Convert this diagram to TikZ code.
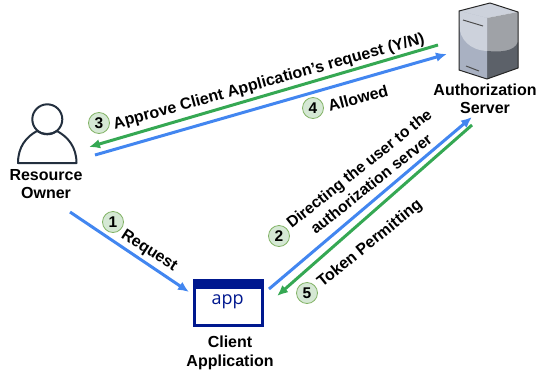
\documentclass[tikz,border=0pt]{standalone}
\usepackage{fontspec}
\setmainfont{Liberation Sans}
\newfontfamily\appfont{Open Sans}
\definecolor{flowblue}{HTML}{4286F0}
\definecolor{flowgreen}{HTML}{35A853}
\definecolor{badgefill}{HTML}{D5E8D4}
\definecolor{badgeline}{HTML}{82B366}
\definecolor{personline}{HTML}{232F3E}
\definecolor{appblue}{HTML}{00188F}
\definecolor{srvtop}{HTML}{CDD2DC}
\definecolor{srvleft}{HTML}{A9B1C2}
\definecolor{srvright}{HTML}{9FA2A7}
\definecolor{srvdark}{HTML}{5C6169}
\usetikzlibrary{arrows.meta}
\tikzset{
 x=1pt,y=-1pt,
 bluearrow/.style={draw=flowblue,line width=3pt,-{Latex[length=11pt,width=9.5pt]}},
 greenarrow/.style={draw=flowgreen,line width=3pt,-{Latex[length=11pt,width=9.5pt]}},
 badge/.style={circle,draw=badgeline,fill=badgefill,line width=0.8pt,inner sep=0pt,minimum size=21pt,font=\fontsize{15.5}{15.5}\selectfont\bfseries},
 caption/.style={align=center,font=\fontsize{16}{18.5}\selectfont\bfseries,inner sep=0pt},
 flowlabel/.style={align=center,font=\fontsize{16}{18}\selectfont\bfseries,inner sep=0pt},
 flowlabeltwo/.style={align=center,font=\fontsize{15.7}{19.5}\selectfont\bfseries,inner sep=0pt},
}
\begin{document}
\begin{tikzpicture}
\useasboundingbox (0,0) rectangle (537,375);
% person
\draw[personline,line width=2pt,fill=white,line join=round] (18,163) -- (76.5,163) .. controls (76.5,147) and (68,137) .. (57,131) .. controls (51,135) and (43,135) .. (37,131) .. controls (26,137) and (18,147) .. (18,163) -- cycle;
\node[circle,draw=personline,line width=2pt,minimum size=30pt,inner sep=0pt] (head) at (47.3,119.3) {};
\node[caption] (owner) at (46,184) {Resource\\Owner};
% server
\fill[srvtop] (459,11) -- (490,3) -- (518,12) -- (487,18) -- cycle;
\fill[srvright] (487,18) -- (518,12) -- (518,68) -- (487,79) -- cycle;
\fill[srvdark] (487,51) .. controls (500,52) and (514,52) .. (518,42) -- (518,68) -- (487,79) -- cycle;
\fill[srvleft] (459,11) -- (487,18) -- (487,79) -- (459,70) -- cycle;
\fill[srvtop] (459,11) -- (487,18) -- (487,51) .. controls (470,50) and (460,40) .. (459,25) -- cycle;
\draw[black!85,line width=1pt,line join=round] (459,11) -- (490,3) -- (518,12) -- (518,68) -- (487,79) -- (459,70) -- cycle;
\draw[black!70,line width=1pt] (463,20) -- (483,26);
\draw[black!70,line width=1pt] (466,66) -- (479,71);
\node[caption] (authsrv) at (485,99) {Authorization\\Server};
% app
\node[draw=appblue,line width=3pt,fill=white,minimum width=68pt,minimum height=45pt,inner sep=0pt] (appbox) at (228.7,303) {};
\fill[appblue] (193.3,279) rectangle (264,289);
\node[text=appblue,font=\appfont\fontsize{18}{18}\selectfont,inner sep=0pt] (applabel) at (227.7,301.5) {app};
\node[caption] (client) at (230,353) {Client\\Application};
% connector ends
\coordinate (a1) at (70,212); \coordinate (b1) at (189,292);
\coordinate (a2) at (269,289); \coordinate (b2) at (472,117);
\coordinate (a3) at (438,45); \coordinate (b3) at (89,147);
\coordinate (a4) at (95,155); \coordinate (b4) at (447,54);
\coordinate (a5) at (472,125); \coordinate (b5) at (277,296);
\draw[bluearrow] (a1) -- (b1);
\draw[bluearrow] (a2) -- (b2);
\draw[greenarrow] (a3) -- (b3);
\draw[bluearrow] (a4) -- (b4);
\draw[greenarrow] (a5) -- (b5);
% labels
\node[flowlabel,rotate=-33] (l1) at (149,251) {Request};
\node[flowlabeltwo,rotate=38.5] (l2) at (365,176) {Directing the user to the\\authorization server};
\node[flowlabel,rotate=15.5] (l3) at (269,82) {Approve Client Application's request (Y/N)};
\node[flowlabel,rotate=15] (l4) at (358,98) {Allowed};
\node[flowlabel,rotate=39] (l5) at (370,244) {Token Permitting};
% badges
\node[badge] (n1) at (113,222) {1};
\node[badge] (n2) at (279,236) {2};
\node[badge] (n3) at (99,123) {3};
\node[badge] (n4) at (313,108) {4};
\node[badge] (n5) at (307,293) {5};
\end{tikzpicture}
\end{document}
